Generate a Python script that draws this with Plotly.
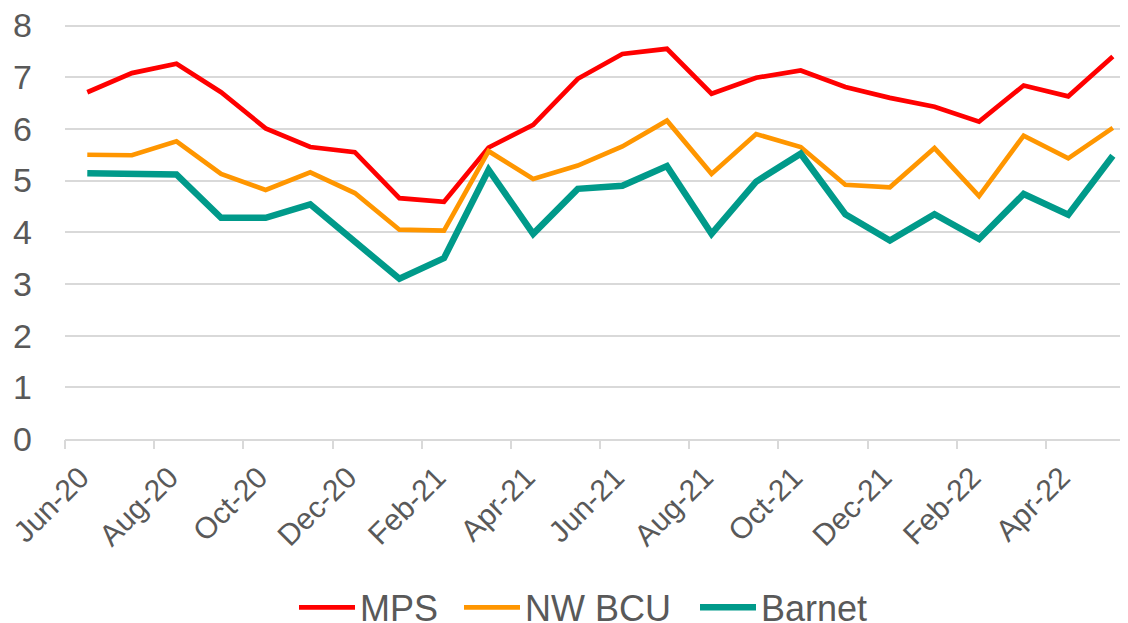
import plotly.graph_objects as go

months = ["Jun-20", "Jul-20", "Aug-20", "Sep-20", "Oct-20", "Nov-20", "Dec-20",
          "Jan-21", "Feb-21", "Mar-21", "Apr-21", "May-21", "Jun-21", "Jul-21",
          "Aug-21", "Sep-21", "Oct-21", "Nov-21", "Dec-21", "Jan-22", "Feb-22",
          "Mar-22", "Apr-22", "May-22"]

mps = [6.71, 7.08, 7.26, 6.71, 6.01, 5.65, 5.55, 4.66, 4.59, 5.64, 6.08, 6.97,
       7.45, 7.55, 6.68, 6.99, 7.13, 6.81, 6.60, 6.43, 6.14, 6.84, 6.63, 7.40]
nw_bcu = [5.50, 5.49, 5.76, 5.13, 4.82, 5.16, 4.76, 4.05, 4.03, 5.57, 5.03, 5.29,
          5.66, 6.16, 5.13, 5.90, 5.65, 4.92, 4.87, 5.63, 4.70, 5.87, 5.43, 6.02]
barnet = [5.14, 5.12, 5.12, 4.28, 4.28, 4.54, 3.84, 3.10, 3.50, 5.21, 3.97, 4.84,
          4.90, 5.28, 3.97, 4.98, 5.52, 4.35, 3.84, 4.35, 3.87, 4.74, 4.34, 5.48]

tick_labels = months[::2]

FONT = "Liberation Sans, Arial, sans-serif"
GREY = "#595959"
LINE = "#D9D9D9"

n = len(months)
# the original chart is cropped slightly on the right
x_range = [-0.5, n - 0.66]
# small headroom so the top gridline (8) is kept by plotly
y_range = [0, 8.03]
boundary_ticks = [i - 0.5 for i in range(0, n, 2)]

fig = go.Figure()
fig.add_trace(go.Scatter(x=months, y=mps, name="MPS", mode="lines", legend="legend",
                         line=dict(color="#FF0000", width=4.7)))
fig.add_trace(go.Scatter(x=months, y=nw_bcu, name="NW BCU", mode="lines", legend="legend2",
                         line=dict(color="#FF9600", width=4.7)))
fig.add_trace(go.Scatter(x=months, y=barnet, name="Barnet", mode="lines", legend="legend3",
                         line=dict(color="#009A8A", width=6.5)))
# helper trace (outside the y range) so the boundary tick-mark axis is drawn
fig.add_trace(go.Scatter(x=x_range, y=[-1, -1], xaxis="x2", yaxis="y",
                         showlegend=False, hoverinfo="skip", mode="lines",
                         line=dict(color="rgba(0,0,0,0)", width=0)))

leg_common = dict(orientation="h", y=-0.4058, yanchor="middle", xanchor="left",
                  font=dict(size=36, color=GREY, family=FONT), itemwidth=56,
                  bgcolor="rgba(0,0,0,0)")

fig.update_layout(
    width=1120, height=615,
    margin=dict(l=57, r=0, t=15.5, b=184, autoexpand=False),
    paper_bgcolor="white", plot_bgcolor="white",
    font=dict(family=FONT, color=GREY),
    showlegend=True,
    legend=dict(x=(294 - 65) / 1063, **leg_common),
    legend2=dict(x=(459 - 65) / 1063, **leg_common),
    legend3=dict(x=(695 - 65) / 1063, **leg_common),
    xaxis=dict(
        type="category", categoryorder="array", categoryarray=months,
        range=x_range,
        tickmode="array", tickvals=tick_labels, ticktext=tick_labels,
        ticks="", showline=True, linecolor=LINE, linewidth=1.5,
        showgrid=False, zeroline=False,
        tickangle=-45, tickfont=dict(size=30, color=GREY, family=FONT),
        ticklabelstandoff=7, ticklabelshift=-7, automargin=False,
        ticklabeloverflow="allow",
    ),
    xaxis2=dict(overlaying="x", anchor="y", side="bottom", type="linear",
                range=x_range, tickmode="array", tickvals=boundary_ticks,
                showticklabels=False, ticks="outside", ticklen=9, tickcolor=LINE,
                tickwidth=1.5, showgrid=False, zeroline=False, showline=False,
                automargin=False),
    yaxis=dict(
        range=y_range, dtick=1, tick0=0,
        showgrid=True, gridcolor=LINE, gridwidth=1.5,
        zeroline=False, showline=False, ticks="",
        tickfont=dict(size=34, color=GREY, family=FONT),
        ticklabelstandoff=32, automargin=False,
        ticklabeloverflow="allow",
    ),
)

fig.write_html("out.html")
